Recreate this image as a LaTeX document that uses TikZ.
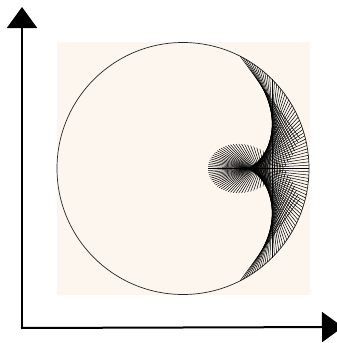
\documentclass[tikz,border=0pt]{standalone}
\usetikzlibrary{arrows.meta}
\definecolor{bgpeach}{HTML}{FDF6EF}
\begin{document}
\begin{tikzpicture}[x=1pt,y=-1pt,
  axisline/.style={line width=2pt, black, -{Triangle[width=30pt,length=21pt]}},
  ray/.style={line width=0.5pt, black},
  rim/.style={draw=black!85, line width=0.7pt, circle, inner sep=0pt, minimum size=252pt}]
\useasboundingbox (0,0) rectangle (337,343);
\fill[bgpeach] (57,42) rectangle (310,295);
\node[rim] (ring) at (183,168.5) {};
\foreach \t in {-63,-61.5,...,63.1} {
  \pgfmathsetmacro\px{183+126*cos(\t)}
  \pgfmathsetmacro\py{168.5-126*sin(\t)}
  \pgfmathsetmacro\ex{\px-101*cos(2*\t)}
  \pgfmathsetmacro\ey{\py+101*sin(2*\t)}
  \draw[ray] (\px,\py) -- (\ex,\ey);
}
\coordinate (origin) at (22,328);
\coordinate (ytip) at (22,7);
\coordinate (xtip) at (343,327);
\draw[axisline] ([yshift=1pt]origin) -- (ytip);
\draw[axisline] ([xshift=-1pt]origin) -- (xtip);
\end{tikzpicture}
\end{document}
